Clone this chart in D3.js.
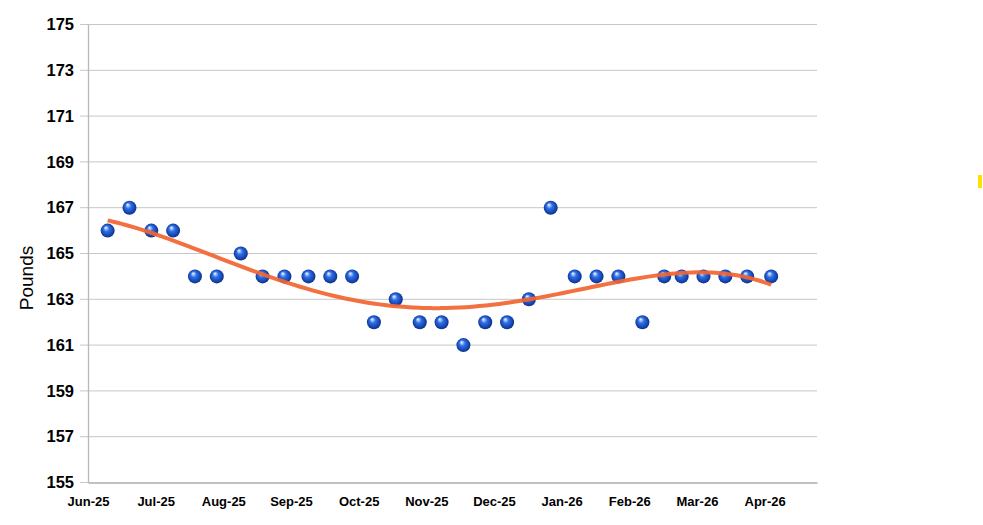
<!DOCTYPE html>
<html>
<head>
<meta charset="utf-8">
<script src="https://cdn.jsdelivr.net/npm/d3@7"></script>
<style>
  body { margin: 0; background: #fff; }
  svg { display: block; font-family: "Liberation Sans", Arial, sans-serif; }
</style>
</head>
<body>
<div id="chart"></div>
<script>
// ===== Dados =====
const dates = [
  "2025-06-10", "2025-06-20", "2025-06-30",
  "2025-07-10", "2025-07-20", "2025-07-30",
  "2025-08-10", "2025-08-20", "2025-08-30",
  "2025-09-10", "2025-09-20", "2025-09-30",
  "2025-10-10", "2025-10-20", "2025-10-31",
  "2025-11-10", "2025-11-20", "2025-11-30",
  "2025-12-10", "2025-12-20", "2025-12-30",
  "2026-01-10", "2026-01-20", "2026-01-30",
  "2026-02-10", "2026-02-20", "2026-02-28",
  "2026-03-10", "2026-03-20", "2026-03-30",
  "2026-04-10"
];
const pounds = [
  166, 167, 166,
  166, 164, 164,
  165, 164, 164,
  164, 164, 164,
  162, 163, 162,
  162, 161, 162,
  162, 163, 167,
  164, 164, 164,
  162, 164, 164,
  164, 164, 164,
  164
];
const tickDates = [
  "2025-06-01", "2025-07-02", "2025-08-02", "2025-09-02", "2025-10-03",
  "2025-11-03", "2025-12-04", "2026-01-04", "2026-02-04", "2026-03-07", "2026-04-07"
];
const yTicks = [155, 157, 159, 161, 163, 165, 167, 169, 171, 173, 175];
const domainDates = ["2025-06-01", "2026-05-01"];

(function() {
  const width = 983;
  const height = 525;
  const parse = d3.utcParse("%Y-%m-%d");
  const fmt = d3.utcFormat("%b-%y");

  const data = dates.map((d, i) => ({ date: parse(d), value: pounds[i] }));

  const svg = d3.select("#chart").append("svg")
    .attr("width", width)
    .attr("height", height);

  const x = d3.scaleUtc()
    .domain(domainDates.map(parse))
    .range([88, 817]);

  const y = d3.scaleLinear()
    .domain([155, 175])
    .range([482.5, 24.5]);

  // ===== Grade =====
  svg.append("g")
    .selectAll("line")
    .data(yTicks)
    .join("line")
    .attr("x1", 80)
    .attr("x2", 817)
    .attr("y1", d => y(d))
    .attr("y2", d => y(d))
    .attr("stroke", "#c6c6c6")
    .attr("stroke-width", 1);

  // eixo Y
  const yAxis = svg.append("g")
    .attr("transform", "translate(88,0)")
    .call(d3.axisLeft(y).tickValues(yTicks).tickSize(0).tickPadding(14));
  yAxis.select(".domain").attr("stroke", "#b8b8b8").attr("stroke-width", 1.3);
  yAxis.selectAll("text")
    .attr("font-size", 16.5)
    .attr("font-weight", "bold")
    .attr("fill", "#000");

  // eixo X
  const xAxis = svg.append("g")
    .attr("transform", "translate(0,482.5)")
    .call(d3.axisBottom(x).tickValues(tickDates.map(parse)).tickFormat(fmt).tickSize(0).tickPadding(14));
  xAxis.select(".domain").attr("stroke", "#c0c0c0").attr("stroke-width", 2.2);
  xAxis.selectAll("text")
    .attr("font-size", 13)
    .attr("font-weight", "bold")
    .attr("fill", "#000");

  svg.append("text")
    .attr("transform", "translate(33,278) rotate(-90)")
    .attr("text-anchor", "middle")
    .attr("font-size", 19)
    .attr("fill", "#000")
    .text("Pounds");

  // ===== Linha de tendência (polinomial, ordem 4) =====
  const t0 = data[0].date.getTime();
  const day = 864e5;
  const xs = data.map(d => (d.date.getTime() - t0) / day / 100);
  const ys = data.map(d => d.value);

  function fit(order) {
    const n = order + 1;
    const A = d3.range(n).map(() => new Array(n + 1).fill(0));
    xs.forEach((xv, k) => {
      for (let i = 0; i < n; i++) {
        for (let j = 0; j < n; j++) A[i][j] += Math.pow(xv, i + j);
        A[i][n] += ys[k] * Math.pow(xv, i);
      }
    });
    for (let i = 0; i < n; i++) {
      let p = i;
      for (let r = i + 1; r < n; r++) if (Math.abs(A[r][i]) > Math.abs(A[p][i])) p = r;
      [A[i], A[p]] = [A[p], A[i]];
      for (let r = 0; r < n; r++) {
        if (r === i) continue;
        const f = A[r][i] / A[i][i];
        for (let c = i; c <= n; c++) A[r][c] -= f * A[i][c];
      }
    }
    const coef = A.map((row, i) => row[n] / row[i]);
    return xv => coef.reduce((s, c, i) => s + c * Math.pow(xv, i), 0);
  }

  const poly = fit(4);
  const xMax = xs[xs.length - 1];
  const trend = d3.range(0, 101).map(i => {
    const xv = xMax * i / 100;
    return { date: new Date(t0 + xv * 100 * day), value: poly(xv) };
  });

  const line = d3.line()
    .x(d => x(d.date))
    .y(d => y(d.value))
    .curve(d3.curveBasis);

  // ===== Esferas =====
  const defs = svg.append("defs");
  const grad = defs.append("radialGradient")
    .attr("id", "sphere")
    .attr("cx", "50%").attr("cy", "50%").attr("r", "55%")
    .attr("fx", "36%").attr("fy", "28%");
  [
    { offset: "0%", color: "#ffffff" },
    { offset: "14%", color: "#a9c8ff" },
    { offset: "38%", color: "#2f6fe3" },
    { offset: "72%", color: "#1749b8" },
    { offset: "100%", color: "#0b2a73" }
  ].forEach(s => grad.append("stop").attr("offset", s.offset).attr("stop-color", s.color));

  svg.append("g")
    .selectAll("circle")
    .data(data)
    .join("circle")
    .attr("cx", d => x(d.date))
    .attr("cy", d => y(d.value))
    .attr("r", 7)
    .attr("fill", "url(#sphere)");

  svg.append("path")
    .datum(trend)
    .attr("d", line)
    .attr("fill", "none")
    .attr("stroke", "#f26430")
    .attr("stroke-width", 4)
    .attr("stroke-opacity", 0.92);

  // marca amarela à direita
  svg.append("rect")
    .attr("x", 978)
    .attr("y", 175)
    .attr("width", 4)
    .attr("height", 13)
    .attr("fill", "#ffe100");
})();
</script>
</body>
</html>
